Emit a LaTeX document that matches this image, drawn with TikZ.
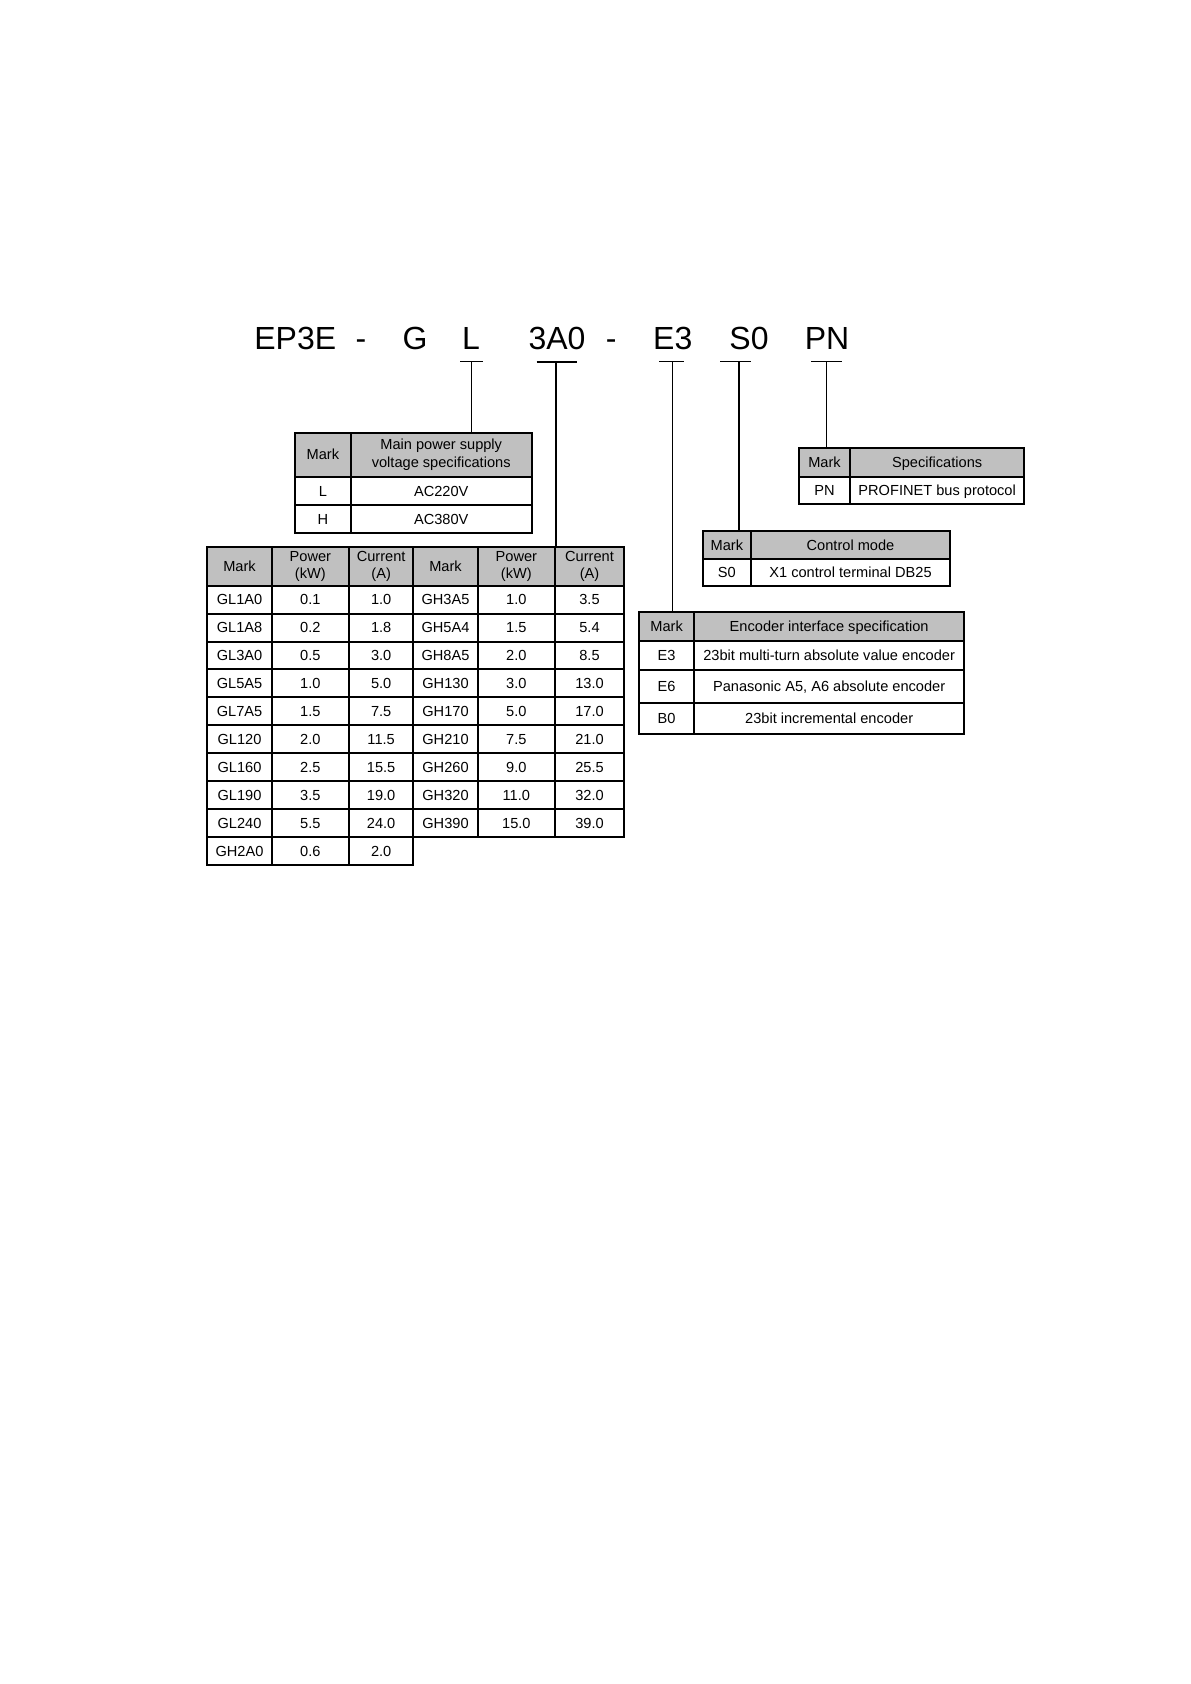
\documentclass[tikz,border=0pt]{standalone}
\usepackage{fontspec}
\setmainfont{Liberation Sans}
\usepackage{tikz}
\definecolor{headgray}{RGB}{192,192,192}
\tikzset{every picture/.style={line width=0.75pt}}
\tikzset{
  tab/.style={line width=1pt},
  lead/.style={line width=0.65pt},
  cell/.style={font=\fontsize{7.3}{9}\selectfont, inner sep=0pt, text height=5.2pt, text depth=0pt},
  cellii/.style={font=\fontsize{7.3}{8.8}\selectfont, inner sep=0pt, align=center},
  code/.style={font=\fontsize{16}{19}\selectfont, inner sep=0pt, anchor=base}
}

\begin{document}
\begin{tikzpicture}[x=0.5pt,y=-0.5pt]
\useasboundingbox (0,0) rectangle (1190,1684);

% model code
\node[code] (ep) at (295.3,349.3) {EP3E};
\node[code] (da) at (361,349.3) {-};
\node[code] (cG) at (415,349.3) {G};
\node[code] (cL) at (471,349.3) {L};
\node[code] (cA) at (557,349.3) {3A0};
\node[code] (db) at (611.3,349.3) {-};
\node[code] (cE) at (672.8,349.3) {E3};
\node[code] (cS) at (749,349.3) {S0};
\node[code] (cP) at (827,349.3) {PN};

% marks under the code
\draw[lead] (460,361.7) -- (483.3,361.7);
\draw[tab] (536.7,361.7) -- (576.7,361.7);
\draw[lead] (659.3,361.7) -- (684,361.7);
\draw[lead] (720,361.7) -- (750.7,361.7);
\draw[lead] (811,361.7) -- (841.7,361.7);
\coordinate (bL) at (471.7,361.7);
\coordinate (bA) at (556,361.7);
\coordinate (bE) at (672.3,361.7);
\coordinate (bS) at (739,361.7);
\coordinate (bP) at (826.7,361.7);
\coordinate (tL) at (471.7,432.7);
\coordinate (tA) at (556,547.3);
\coordinate (tE) at (672.3,612.3);
\coordinate (tS) at (739,530.7);
\coordinate (tP) at (826.7,448.3);
\draw[lead] (bL) -- (tL);
\draw[lead] (bA) -- (tA);
\draw[lead] (bE) -- (tE);
\draw[lead] (bS) -- (tS);
\draw[lead] (bP) -- (tP);

% voltage table
\fill[headgray] (295,432.7) rectangle (531.7,476.7);
\draw[tab] (295,432.7) rectangle (531.7,533.3);
\draw[tab] (350.7,432.7) -- (350.7,533.3) (295,476.7) -- (531.7,476.7) (295,505) -- (531.7,505);
\node[cell] (vMark) at (322.9,454.7) {Mark};
\node[cellii] (vSpec) at (441.2,454.7) {Main power supply\\voltage specifications};
\node[cell] (vL) at (322.9,490.9) {L};
\node[cell] (vLv) at (441.2,490.9) {AC220V};
\node[cell] (vH) at (322.9,519.2) {H};
\node[cell] (vHv) at (441.2,519.2) {AC380V};

% power tables
\fill[headgray] (207.3,547.3) rectangle (624,585.7);
\draw[tab] (207.3,547.3) rectangle (413.3,865);
\draw[tab] (413.3,547.3) rectangle (624,836.7);
\foreach \x in {271.7,349} \draw[tab] (\x,547.3) -- (\x,865);
\foreach \x in {477.7,555} \draw[tab] (\x,547.3) -- (\x,836.7);
\foreach \i in {0,...,8} \draw[tab] (207.3,{585.7+27.93*\i}) -- (624,{585.7+27.93*\i});
\draw[tab] (207.3,837) -- (413.3,837);
\node[cell] (pMarkL) at (239.5,566.5) {Mark};
\node[cellii] (pPowL) at (310.35,566.5) {Power\\(kW)};
\node[cellii] (pCurL) at (381.15,566.5) {Current\\(A)};
\node[cell] (pMarkR) at (445.5,566.5) {Mark};
\node[cellii] (pPowR) at (516.35,566.5) {Power\\(kW)};
\node[cellii] (pCurR) at (589.5,566.5) {Current\\(A)};
\foreach \m/\p/\c [count=\i] in {GL1A0/0.1/1.0,GL1A8/0.2/1.8,GL3A0/0.5/3.0,GL5A5/1.0/5.0,GL7A5/1.5/7.5,GL120/2.0/11.5,GL160/2.5/15.5,GL190/3.5/19.0,GL240/5.5/24.0,GH2A0/0.6/2.0}{
  \node[cell] (gl\i) at (239.5,{571.73+27.93*\i}) {\m};
  \node[cell] (glp\i) at (310.35,{571.73+27.93*\i}) {\p};
  \node[cell] (glc\i) at (381.15,{571.73+27.93*\i}) {\c};
}
\foreach \m/\p/\c [count=\i] in {GH3A5/1.0/3.5,GH5A4/1.5/5.4,GH8A5/2.0/8.5,GH130/3.0/13.0,GH170/5.0/17.0,GH210/7.5/21.0,GH260/9.0/25.5,GH320/11.0/32.0,GH390/15.0/39.0}{
  \node[cell] (gh\i) at (445.5,{571.73+27.93*\i}) {\m};
  \node[cell] (ghp\i) at (516.35,{571.73+27.93*\i}) {\p};
  \node[cell] (ghc\i) at (589.5,{571.73+27.93*\i}) {\c};
}

% bus table
\fill[headgray] (799,448.3) rectangle (1024.3,476.7);
\draw[tab] (799,448.3) rectangle (1024.3,504);
\draw[tab] (850,448.3) -- (850,504) (799,476.7) -- (1024.3,476.7);
\node[cell] (bMark) at (824.5,462.5) {Mark};
\node[cell] (bSpec) at (937.15,462.5) {Specifications};
\node[cell] (bPN) at (824.5,490.35) {PN};
\node[cell] (bPNv) at (937.15,490.35) {PROFINET bus protocol};

% control table
\fill[headgray] (702.7,530.7) rectangle (950,559);
\draw[tab] (702.7,530.7) rectangle (950,585.7);
\draw[tab] (751,530.7) -- (751,585.7) (702.7,559) -- (950,559);
\node[cell] (sMark) at (726.85,544.85) {Mark};
\node[cell] (sMode) at (850.5,544.85) {Control mode};
\node[cell] (sS) at (726.85,572.35) {S0};
\node[cell] (sSv) at (850.5,572.35) {X1 control terminal DB25};

% encoder table
\fill[headgray] (639.3,612.3) rectangle (964.3,640.7);
\draw[tab] (639.3,612.3) rectangle (964.3,734);
\draw[tab] (694,612.3) -- (694,734);
\foreach \y in {640.7,670,702.7} \draw[tab] (639.3,\y) -- (964.3,\y);
\node[cell] (eMark) at (666.65,626.5) {Mark};
\node[cell] (eSpec) at (829.15,626.5) {Encoder interface specification};
\node[cell] (eE3) at (666.65,655.35) {E3};
\node[cell] (eE3v) at (829.15,655.35) {23bit multi-turn absolute value encoder};
\node[cell] (eE6) at (666.65,686.35) {E6};
\node[cell] (eE6v) at (829.15,686.35) {Panasonic A5, A6 absolute encoder};
\node[cell] (eB0) at (666.65,718.35) {B0};
\node[cell] (eB0v) at (829.15,718.35) {23bit incremental encoder};
\end{tikzpicture}
\end{document}
